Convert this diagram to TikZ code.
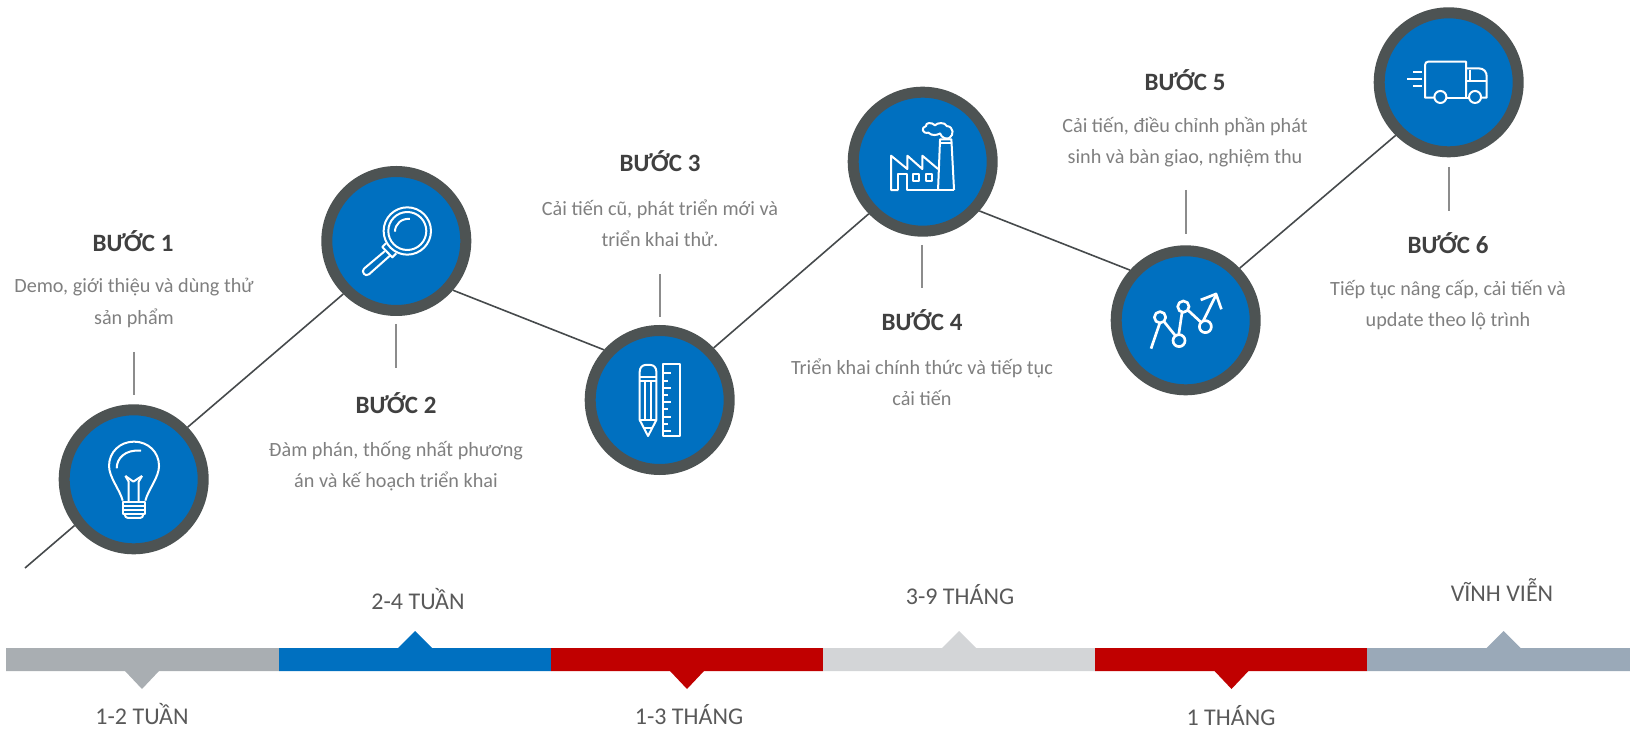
\documentclass[tikz,border=0pt]{standalone}
\usepackage{fontspec}
\usepackage{xcolor}
\usepackage{tikz}
\setmainfont{Carlito}
\definecolor{stepblue}{RGB}{0,112,192}
\definecolor{ringgray}{RGB}{77,83,83}
\definecolor{pathgray}{RGB}{70,74,76}
\definecolor{tickgray}{RGB}{140,140,140}
\definecolor{headgray}{RGB}{64,64,64}
\definecolor{bodygray}{RGB}{127,127,127}
\definecolor{timegray}{RGB}{89,89,89}
\definecolor{barsilver}{RGB}{169,174,178}
\definecolor{barred}{RGB}{192,0,0}
\definecolor{barlight}{RGB}{211,213,215}
\definecolor{barsteel}{RGB}{154,169,184}
\tikzset{
  ringnode/.style={circle,draw=ringgray,fill=stepblue,line width=8.25pt,minimum size=104.25pt,inner sep=0pt},
  pathline/.style={pathgray,line width=1.2pt},
  tickline/.style={tickgray,line width=1pt},
  headnode/.style={font=\fontsize{18.7}{22}\selectfont\bfseries,text=headgray,inner sep=0pt},
  bodynode/.style={font=\fontsize{15.15}{23.4}\selectfont,text=bodygray,align=center,inner sep=0pt},
  timenode/.style={font=\fontsize{18}{21}\selectfont,text=timegray,inner sep=0pt},
  iconline/.style={white,line width=1.5pt,line join=round},
  iconpen/.style={shift={(#1)},x=0.25pt,y=-0.25pt}
}
\begin{document}
\begin{tikzpicture}[x=0.75pt,y=-0.75pt]
\useasboundingbox (0,0) rectangle (1630,730);
% Draw the step circles
\node[ringnode] (c1) at (133.7,479.3) {};
\node[ringnode] (c2) at (396.3,241) {};
\node[ringnode] (c3) at (659.7,400) {};
\node[ringnode] (c4) at (922.7,161.7) {};
\node[ringnode] (c5) at (1185.7,320.3) {};
\node[ringnode] (c6) at (1448.7,82.3) {};
% Draw the path between the circles
\coordinate (start) at (25,568);
\draw[pathline] (start) -- (c1.218);
\draw[pathline] (c1.44.5) -- (c2.225);
\draw[pathline] (c2.-41.3) -- (c3.138.6);
\draw[pathline] (c3.44.3) -- (c4.224.8);
\draw[pathline] (c4.-41.1) -- (c5.138.3);
\draw[pathline] (c5.44) -- (c6.225);
% Draw the ticks between circles and texts
\coordinate (t1a) at (134,352);
\coordinate (t1b) at (134,395);
\coordinate (t2a) at (396,324);
\coordinate (t2b) at (396,368);
\coordinate (t3a) at (660,274);
\coordinate (t3b) at (660,317);
\coordinate (t4a) at (922,245);
\coordinate (t4b) at (922,288);
\coordinate (t5a) at (1186,190);
\coordinate (t5b) at (1186,234);
\coordinate (t6a) at (1449,167);
\coordinate (t6b) at (1449,211);
\draw[tickline] (t1a) -- (t1b);
\draw[tickline] (t2a) -- (t2b);
\draw[tickline] (t3a) -- (t3b);
\draw[tickline] (t4a) -- (t4b);
\draw[tickline] (t5a) -- (t5b);
\draw[tickline] (t6a) -- (t6b);
% Step texts
\node[headnode] (h1) at (133,241) {BƯỚC 1};
\node[bodynode] (b1) at (134,303) {Demo, giới thiệu và dùng thử\\sản phẩm};
\node[headnode] (h2) at (396,403) {BƯỚC 2};
\node[bodynode] (b2) at (396,466) {Đàm phán, thống nhất phương\\án và kế hoạch triển khai};
\node[headnode] (h3) at (660,161) {BƯỚC 3};
\node[bodynode] (b3) at (660,223) {Cải tiến cũ, phát triển mới và\\triển khai thử.};
\node[headnode] (h4) at (922,320) {BƯỚC 4};
\node[bodynode] (b4) at (922,382) {Triển khai chính thức và tiếp tục\\cải tiến};
\node[headnode] (h5) at (1185,80) {BƯỚC 5};
\node[bodynode] (b5) at (1185,142) {Cải tiến, điều chỉnh phần phát\\sinh và bàn giao, nghiệm thu};
\node[headnode] (h6) at (1448,243) {BƯỚC 6};
\node[bodynode] (b6) at (1448,305) {Tiếp tục nâng cấp, cải tiến và\\update theo lộ trình};
% Draw the time bar
\fill[barsilver] (6,648) -- (279,648) -- (279,671) -- (159,671) -- (142,689) -- (125,671) -- (6,671) -- cycle;
\fill[stepblue] (279,648) -- (398,648) -- (415,631) -- (432,648) -- (551,648) -- (551,671) -- (279,671) -- cycle;
\fill[barred] (551,648) -- (823,648) -- (823,671) -- (704,671) -- (687,689) -- (670,671) -- (551,671) -- cycle;
\fill[barlight] (823,648) -- (942,648) -- (959,631) -- (976,648) -- (1095,648) -- (1095,671) -- (823,671) -- cycle;
\fill[barred] (1095,648) -- (1367,648) -- (1367,671) -- (1248.5,671) -- (1231.5,689) -- (1214.5,671) -- (1095,671) -- cycle;
\fill[barsteel] (1367,648) -- (1486.5,648) -- (1503.5,631) -- (1520.5,648) -- (1630,648) -- (1630,671) -- (1367,671) -- cycle;
% Time labels
\node[timenode] (w1) at (142,714) {1-2 TUẦN};
\node[timenode] (w2) at (418,599) {2-4 TUẦN};
\node[timenode] (w3) at (689,715) {1-3 THÁNG};
\node[timenode] (w4) at (960,595) {3-9 THÁNG};
\node[timenode] (w5) at (1231,716) {1 THÁNG};
\node[timenode] (w6) at (1502,590) {VĨNH VIỄN};
% Bulb icon
\begin{scope}[iconpen=c1,shift={(-281,-268)}]
\draw[iconline] (248,332) .. controls (240,300) and (207,262) .. (207,228) .. controls (207,186) and (240,155) .. (282,155) .. controls (324,155) and (357,186) .. (357,228) .. controls (357,262) and (324,300) .. (316,332);
\draw[iconline] (230,235) .. controls (230,205) and (255,178) .. (303,182);
\draw[iconline] (256,258) -- (280,275) -- (306,258);
\draw[iconline] (256,258) -- (266,275) -- (266,335);
\draw[iconline] (306,258) -- (296,275) -- (296,335);
\draw[iconline] (248,335) rectangle (316,373);
\draw[iconline] (248,349) -- (316,349);
\draw[iconline] (248,361) -- (316,361);
\draw[iconline] (254,373) .. controls (255,380) and (258,384) .. (264,384) -- (300,384) .. controls (306,384) and (309,380) .. (310,373);
\end{scope}
% Magnifier icon
\begin{scope}[iconpen=c2,shift={(-274,-273)}]
\draw[iconline] (307,243) circle (71);
\draw[iconline] (307,243) circle (57);
\draw[iconline] (270,245) .. controls (270,222) and (290,204) .. (315,207);
\draw[iconline] (243,280) -- (232,291) -- (262,322) -- (274,310);
\draw[iconline] (240,303) -- (177,356) .. controls (168,365) and (180,382) .. (192,373) -- (256,316);
\end{scope}
% Pencil and ruler icon
\begin{scope}[iconpen=c3,shift={(-269,-270)}]
\draw[iconline] (209,330) -- (209,185) .. controls (209,172) and (218,165) .. (226,165) -- (242,165) .. controls (250,165) and (259,172) .. (259,185) -- (259,330) -- (234,378) -- cycle;
\draw[iconline] (209,200) -- (259,200);
\draw[iconline] (209,214) -- (259,214);
\draw[iconline] (226,214) -- (226,330);
\draw[iconline] (243,214) -- (243,330);
\draw[iconline] (209,330) -- (259,330);
\draw[iconline] (222,355) -- (246,355);
\draw[iconline] (279,163) rectangle (330,378);
\draw[iconline] (279,190) -- (303,190);
\draw[iconline] (279,212) -- (293,212);
\draw[iconline] (279,233) -- (303,233);
\draw[iconline] (279,255) -- (293,255);
\draw[iconline] (279,277) -- (303,277);
\draw[iconline] (279,298) -- (293,298);
\draw[iconline] (279,320) -- (303,320);
\draw[iconline] (279,342) -- (293,342);
\draw[iconline] (279,364) -- (303,364);
\end{scope}
% Factory icon
\begin{scope}[iconpen=c4,shift={(-278,-275)}]
\draw[iconline] (205,360) -- (183,360) -- (183,257) -- (232,297) -- (232,257) -- (277,297) -- (277,257) -- (324,297);
\draw[iconline] (205,360) -- (205,312) -- (232,312) -- (232,360) -- (372,360);
\draw[iconline] (324,360) -- (330,208) -- (364,208) -- (372,360);
\draw[iconline] (329,218) -- (365,218);
\draw[iconline] (248,313) rectangle (268,333);
\draw[iconline] (287,313) rectangle (307,333);
\draw[iconline] (358,204) .. controls (372,195) and (372,170) .. (350,168) .. controls (345,155) and (320,158) .. (315,166) .. controls (305,155) and (285,158) .. (288,168) .. controls (272,172) and (276,192) .. (295,188) .. controls (305,198) and (322,196) .. (330,190) .. controls (335,205) and (350,208) .. (358,204);
\end{scope}
% Chart icon
\begin{scope}[iconpen=c5,shift={(-287,-271)}]
\draw[iconline,line width=2pt] (210,262) circle (17);
\draw[iconline,line width=2pt] (280,230) circle (17);
\draw[iconline,line width=2pt] (267,332) circle (18);
\draw[iconline,line width=2pt] (346,290) circle (18);
\draw[iconline,line width=2pt] (183,356) -- (209,280);
\draw[iconline,line width=2pt] (222,275) -- (255,316);
\draw[iconline,line width=2pt] (266,314) -- (276,247);
\draw[iconline,line width=2pt] (294,241) -- (333,277);
\draw[iconline,line width=2pt] (340,272) -- (378,195);
\draw[iconline,line width=2pt] (332,210) -- (378,192) -- (394,238);
\end{scope}
% Truck icon
\begin{scope}[iconpen=c6,shift={(-266,-247)}]
\draw[iconline] (223,293) -- (195,293) -- (195,195) .. controls (195,189) and (199,185) .. (205,185) -- (318,185) -- (318,293);
\draw[iconline] (259,293) -- (327,293);
\draw[iconline] (318,205) -- (355,205) .. controls (372,205) and (380,216) .. (380,230) -- (380,293) -- (363,293);
\draw[iconline] (318,242) -- (380,242);
\draw[iconline] (329,210) -- (329,240);
\draw[iconline] (241,291) circle (18);
\draw[iconline] (345,291) circle (18);
\draw[iconline] (160,217) -- (187,217);
\draw[iconline] (142,238) -- (187,238);
\draw[iconline] (160,258) -- (187,258);
\end{scope}
\end{tikzpicture}
\end{document}
